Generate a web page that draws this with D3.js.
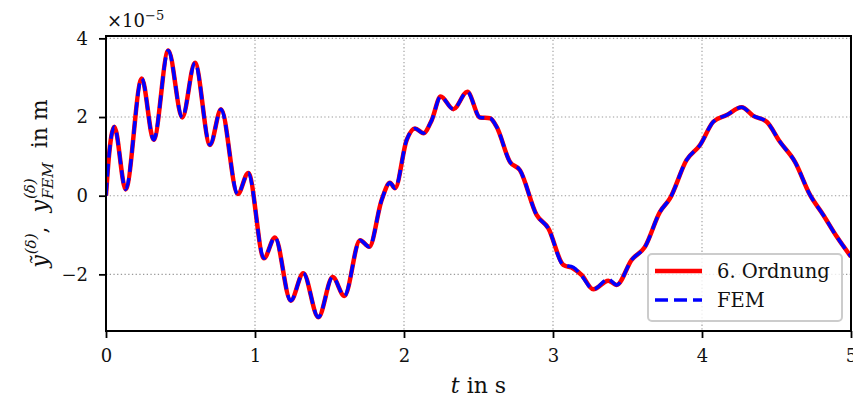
<!DOCTYPE html>
<html>
<head>
  <meta charset="utf-8">
  <script src="https://d3js.org/d3.v7.min.js"></script>
  <style>
    body { margin: 0; background: #fff; }
    text { font-family: "DejaVu Serif", serif; fill: #111; }
  </style>
</head>
<body>
<script>
  "use strict";

  // time axis (s) and displacement (in units of 1e-5 m)
  var tOrd = [0, 0.015, 0.056, 0.132, 0.24, 0.32, 0.418, 0.512, 0.597, 0.698, 0.772, 0.884, 0.955,
    1.06, 1.134, 1.24, 1.324, 1.425, 1.521, 1.6, 1.705, 1.767, 1.85, 1.906, 1.94, 2.018, 2.074,
    2.13, 2.186, 2.246, 2.331, 2.425, 2.51, 2.577, 2.622, 2.711, 2.778, 2.89, 2.969, 3.069, 3.136,
    3.193, 3.27, 3.371, 3.427, 3.528, 3.617, 3.718, 3.785, 3.897, 3.987, 4.076, 4.166, 4.266,
    4.344, 4.434, 4.523, 4.624, 4.725, 4.814, 4.904, 5.0];
  var yOrd = [0, 0.8, 1.75, 0.16, 2.98, 1.42, 3.69, 1.99, 3.38, 1.29, 2.2, 0.04, 0.58,
    -1.59, -1.06, -2.67, -1.97, -3.09, -2.07, -2.55, -1.13, -1.3, -0.11, 0.33, 0.19, 1.42, 1.71,
    1.59, 1.92, 2.52, 2.2, 2.64, 1.99, 1.97, 1.75, 0.86, 0.65, -0.49, -0.83, -1.76, -1.85,
    -2.02, -2.38, -2.16, -2.27, -1.63, -1.3, -0.41, -0.07, 0.91, 1.29, 1.88, 2.05, 2.25,
    2.03, 1.88, 1.37, 0.86, 0.02, -0.49, -1.04, -1.55];

  // FEM reference, nearly the same curve
  var tFem = tOrd;
  var yFem = [0, 0.8, 1.75, 0.16, 2.98, 1.42, 3.69, 1.99, 3.38, 1.29, 2.2, 0.04, 0.58,
    -1.59, -1.06, -2.67, -1.97, -3.09, -2.07, -2.55, -1.13, -1.3, -0.11, 0.33, 0.19, 1.42, 1.71,
    1.59, 1.92, 2.52, 2.2, 2.64, 1.99, 1.97, 1.75, 0.86, 0.65, -0.49, -0.83, -1.76, -1.82,
    -2.04, -2.38, -2.12, -2.27, -1.63, -1.3, -0.41, -0.07, 0.91, 1.29, 1.88, 2.05, 2.25,
    2.03, 1.88, 1.37, 0.86, 0.02, -0.49, -1.04, -1.55];

  var xTicks = [0, 1, 2, 3, 4, 5];
  var yTicks = [-2, 0, 2, 4];
  var seriesNames = ["6. Ordnung", "FEM"];

  var W = 853, H = 401;
  var pl = 106, pr = 851, pt = 36, pb = 331;

  var svg = d3.select("body").append("svg")
    .attr("width", W).attr("height", H);

  var x = d3.scaleLinear().domain([0, 5]).range([pl, pr]);
  var y = d3.scaleLinear().domain([-3.44, 4.06]).range([pb, pt]);

  //grid
  var grid = svg.append("g").attr("stroke", "#9a9a9a").attr("stroke-width", 1.1)
    .attr("stroke-dasharray", "1.3,2.4");
  grid.selectAll(".gx").data(xTicks).enter().append("line")
    .attr("x1", d => x(d)).attr("x2", d => x(d)).attr("y1", pt).attr("y2", pb);
  grid.selectAll(".gy").data(yTicks).enter().append("line")
    .attr("y1", d => y(d)).attr("y2", d => y(d)).attr("x1", pl).attr("x2", pr);

  //curves
  var line = d3.line().curve(d3.curveMonotoneX);
  var ordPts = tOrd.map((t, i) => [x(t), y(yOrd[i])]);
  var femPts = tFem.map((t, i) => [x(t), y(yFem[i])]);

  svg.append("clipPath").attr("id", "clip").append("rect")
    .attr("x", pl).attr("y", pt).attr("width", pr - pl).attr("height", pb - pt);

  var plot = svg.append("g").attr("clip-path", "url(#clip)");
  plot.append("path").attr("d", line(ordPts)).attr("fill", "none")
    .attr("stroke", "#ff0000").attr("stroke-width", 4.5).attr("stroke-linejoin", "round");
  plot.append("path").attr("d", line(femPts)).attr("fill", "none")
    .attr("stroke", "#0000ff").attr("stroke-width", 3.5).attr("stroke-dasharray", "13,6");

  //axes
  var xAxis = d3.axisBottom(x).tickValues(xTicks).tickSize(7).tickPadding(11).tickFormat(d3.format("d"));
  var yAxis = d3.axisLeft(y).tickValues(yTicks).tickSize(7).tickPadding(11)
    .tickFormat(d => d < 0 ? "\u2212" + Math.abs(d) : d);

  var gx = svg.append("g").attr("transform", "translate(0," + pb + ")").call(xAxis);
  var gy = svg.append("g").attr("transform", "translate(" + pl + ",0)").call(yAxis);
  [gx, gy].forEach(function (g) {
    g.select(".domain").remove();
    g.selectAll("line").attr("stroke", "#000").attr("stroke-width", 1.8);
    g.selectAll("text").attr("font-size", 18).attr("font-family", "DejaVu Serif").attr("fill", "#111");
  });

  //frame
  svg.append("rect").attr("x", pl).attr("y", pt).attr("width", pr - pl).attr("height", pb - pt)
    .attr("fill", "none").attr("stroke", "#000").attr("stroke-width", 2);

  //offset text
  var off = svg.append("text").attr("x", 107).attr("y", 27).attr("font-size", 18);
  off.append("tspan").text("\u00d710");
  off.append("tspan").attr("dy", -7).attr("font-size", 13).text("\u22125");

  //x label
  var xl = svg.append("text").attr("x", (pl + pr) / 2).attr("y", 393)
    .attr("text-anchor", "middle").attr("font-size", 22);
  xl.append("tspan").attr("font-style", "italic").text("t");
  xl.append("tspan").text(" in s");

  //y label, built piece by piece
  var yl = svg.append("g").attr("transform", "translate(47," + ((pt + pb) / 2) + ") rotate(-90)");
  var pieces = [
    { s: "y\u0303", it: true, fs: 22, dy: 0 },
    { s: "(\u03b4)", it: true, fs: 15, dy: -11, pad: 1 },
    { s: ",  ", it: false, fs: 22, dy: 0 },
    { s: "y", it: true, fs: 22, dy: 0 },
    { s: "(\u03b4)", it: true, fs: 15, dy: -12, pad: 1 },
    { s: "FEM", it: true, fs: 15, dy: 6, back: true },
    { s: "  in m", it: false, fs: 22, dy: 0 }
  ];
  var cx = 0, lastW = 0, lastX = 0, nodes = [];
  pieces.forEach(function (p) {
    var t = yl.append("text").attr("y", p.dy).attr("font-size", p.fs)
      .attr("font-style", p.it ? "italic" : null).attr("xml:space", "preserve").text(p.s);
    var w = t.node().getComputedTextLength();
    if (p.back) {
      t.attr("x", lastX);
      cx = lastX + Math.max(w, lastW);
    } else {
      var x0 = cx + (p.pad || 0);
      t.attr("x", x0);
      lastX = x0;
      cx = x0 + w;
    }
    lastW = w;
    nodes.push(t);
  });
  nodes.forEach(function (t) { t.attr("x", +t.attr("x") - cx / 2); });

  //legend
  var lg = svg.append("g");
  lg.append("rect").attr("x", 648).attr("y", 254).attr("width", 194).attr("height", 67).attr("rx", 4)
    .attr("fill", "#fff").attr("fill-opacity", 0.8).attr("stroke", "#cccccc").attr("stroke-width", 2);
  lg.append("line").attr("x1", 655).attr("x2", 702).attr("y1", 271).attr("y2", 271)
    .attr("stroke", "#ff0000").attr("stroke-width", 4.5);
  lg.append("line").attr("x1", 655).attr("x2", 702).attr("y1", 300).attr("y2", 300)
    .attr("stroke", "#0000ff").attr("stroke-width", 3.5).attr("stroke-dasharray", "13,6");
  lg.selectAll(".lt").data(seriesNames).enter().append("text")
    .attr("x", 717).attr("y", (d, i) => 278 + i * 29).attr("font-size", 19.5).text(d => d);
</script>
</body>
</html>
